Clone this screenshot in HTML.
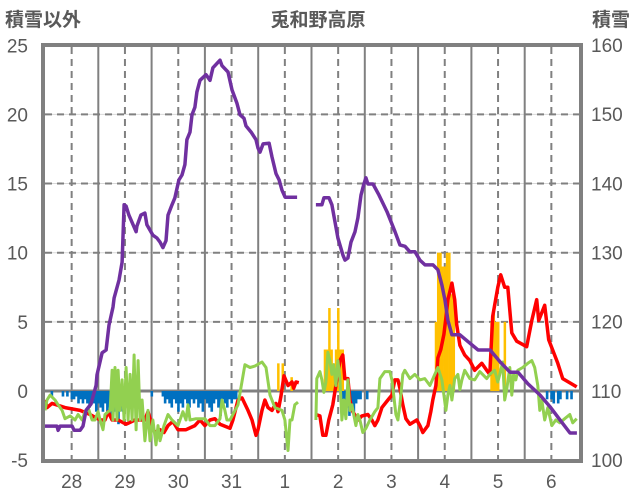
<!DOCTYPE html>
<html><head><meta charset="utf-8"><style>
body{margin:0;background:#fff;}
svg{display:block;font-family:"Liberation Sans","Noto Sans CJK JP",sans-serif;}
</style></head><body>
<svg id="chart" width="636" height="501" viewBox="0 0 636 501" xmlns="http://www.w3.org/2000/svg">
<text x="5" y="26" font-size="19" font-weight="bold" fill="#595959">積雪以外</text>
<text x="318" y="26" font-size="19" font-weight="bold" fill="#595959" text-anchor="middle">兎和野高原</text>
<text x="630" y="26" font-size="19" font-weight="bold" fill="#595959" text-anchor="end">積雪</text>
<g id="grid"></g>
<g id="bars"></g>
<g id="lines"></g>
<rect x="43" y="45" width="538" height="416" fill="none" stroke="#808080" stroke-width="4"/>
<g id="ticks"></g>
</svg>
<script>
const dayLabels=["28","29","30","31","1","2","3","4","5","6"];
const leftTicks=[25,20,15,10,5,0,-5];
const rightTicks=[160,150,140,130,120,110,100];
const snowHours=[0,5.4,5.9,6.8,12.2,13.1,15.8,17.1,18.5,20.7,23,23.4,25.7,27.5,28.8,30.6,31.1,33.3,34.7,35.6,36.5,37.8,41,41.4,43.2,45,45.9,48.6,50.4,51.8,53.1,54.5,55.4,57.2,58.5,60.3,61.7,63,63.9,65.3,66.2,67.5,68.4,69.8,72.5,74.3,75.6,77.9,78.8,79.7,82.4,84.2,86.4,87.8,89.6,90.5,92.8,95,95.9,96.8,98.2,100.9,102.2,104,105.4,106.7,108.1,113.5,null,122,124.7,125.6,127.9,129.2,131.9,134.2,135.1,136.4,137.8,139.6,140.9,142.3,143.6,144.5,145.4,147.7,150.4,154,157.6,159.8,162.1,164.3,166.6,168.8,171.1,174.7,176.9,178.7,180.1,181.4,183.2,186.8,190.5,195,200.4,204.9,209.4,213,217.5,222.9,227.4,231.9,236.4,239.5];
const snowVals=[104.9,104.9,104.3,104.9,104.9,104.3,104.3,104.9,107.2,108.1,110.8,112.3,115.5,115.9,119.5,122.1,123.4,126,128.6,136.9,136.7,135.4,133,133.8,135.4,135.7,134,132.5,132.1,131.5,130.7,131.7,135.4,136.9,137.9,140.5,141.2,142.7,146.3,147.4,149.9,151,153.2,154.9,155.7,154.9,156.7,157.5,157.8,157,156.1,153.5,151.6,149.9,149.4,148.3,147.4,146.3,145.1,144.5,145.7,145.8,143.8,141.4,140.5,139,138,138,null,136.9,136.9,137.9,137.9,136.9,132.1,129.6,128.9,129.2,131.5,133,135,138.3,139.9,140.8,139.9,139.9,138.3,135.9,133,131.1,130.9,130.1,130.1,128.9,128.2,128.2,127.5,125.3,123.1,120.2,118.1,118.1,117.1,115.9,115.9,114.2,112.7,112.7,111,109.4,107.7,105.8,103.9,103.9];
const tempHours=[0,0.9,3.2,9,15.8,20.3,24.8,27,28.4,30.2,32.9,36.5,40.5,45,46.4,48.2,49.5,51.8,53.6,55.4,57.6,59.9,63.5,67.5,69.8,72,74.3,76.5,78.8,83.3,84.6,86.9,88.7,91.4,93.2,95,95.9,97.7,99,100.4,102.2,104,104.9,106.2,107.6,109.4,111.2,112,113,114.3,null,122,123.8,125.1,126.5,127.8,129.6,131,132.8,134.1,135,136.4,137.3,138.6,140.9,142.7,145.4,147.2,148.5,149.9,151.7,154.4,156.2,157.5,158.9,159.8,161.1,162.5,164.3,167.4,168.8,170.1,172.4,173.7,174.6,176,176.9,178.2,179.6,180.5,181.4,183.2,184.5,185.4,186.8,189,191.3,193.5,196.7,198.9,200.3,201.6,203.9,205.2,207,208.4,210.2,212.4,216.9,219.2,221.4,222.3,225,226.8,230.9,233.1,239.4];
const tempVals=[-0.65,-1.2,-0.9,-1.2,-1.4,-1.7,-2.1,-2.1,-1.5,-2.1,-2.1,-2.4,-2.1,-2.1,-1.5,-2.5,-3,-2.8,-3,-2.5,-2.2,-2.8,-2.8,-2.5,-2.1,-2.5,-2.1,-2,-2.4,-2.7,-2.1,-0.65,-0.5,-1.4,-2.1,-3.2,-2.8,-1.4,-0.65,-1.2,-1.4,-0.9,-1.5,-0.4,1.1,0.4,0.65,0.2,0.65,0.6,null,-1.7,-1.8,-3.2,-3.2,-2.1,-1,0.4,2.2,2.6,0.9,0.9,-0.65,-1.5,-2.1,-1.8,-1.7,-2.1,-2.5,-2.1,-1.2,-0.65,-0.3,0.8,0.8,0.2,-1,-2,-2.4,-2.1,-2.5,-3,-2.5,-1.5,-0.65,0.4,2.4,3,4.1,5.3,6.6,7.8,6.6,4.8,3.3,2.6,2.2,1.5,2,1.5,1.2,5.4,7.5,8.4,7.5,7.5,4.2,3.6,3.2,5.1,6.6,5.1,6.2,3.7,2,0.9,0.3];
const windHours=[0,0.9,2.3,4.5,5.9,7.7,9,11.3,13.5,14.9,16.7,18,19.4,21.2,22.5,23.9,24.8,26.1,27,28.4,29.3,30.2,30.6,31.5,32.4,32.9,33.8,34.7,35.6,36.5,37.4,38.3,39.2,40.1,41,41.9,42.8,43.7,45,46.4,47.3,48.6,50,50.9,51.8,53.6,55.4,57.2,59.9,62.1,63.5,64.4,65.3,68,72,74.3,76.5,78.8,79.7,81,81.9,83.3,86.9,90,92.3,94.5,97.7,99.5,101.3,103.5,106.7,108,109.4,110.3,111.2,112.5,113.9,null,122,122.4,123.8,124.7,125.6,126.5,127.4,128.3,129.2,130,131,131.9,132.8,133.7,134.6,135.5,136.4,137.3,138.2,139,140,140.9,141.8,143.1,144.5,146.3,148.5,149.9,150.8,153,155.3,156.2,157,158,158.9,159.8,161.1,162,164.3,166.5,168.8,171,173.3,175.5,176.9,178.7,179.6,180.5,181.4,182.3,183.2,184.5,185.9,186.8,187.7,189,191.3,193.5,195.8,198.9,200.3,202.5,203.9,204.8,206.1,207,207.9,209.3,210.2,211,212,212.9,215.1,217.4,219.2,220.5,221.9,222.8,223.7,225,226.4,228.2,230,231.8,234,236.3,237.6,239.4];
const windVals=[-1.4,-0.65,-0.3,-0.65,-1,-1.4,-2,-1.8,-2.1,-1.7,-2.1,-1.5,-1.2,-2.1,-2.1,-1.5,-2.1,-2.8,-1.7,-1.5,-1.4,1.5,-2.1,1.7,-2.1,1.5,-1.4,0.8,-2.1,1.7,-2.1,1.2,-2.1,2.6,-2.8,2.2,-2.1,-0.65,-3.6,-1.4,-3.6,-2.1,-3.9,-2.5,-3.6,-2.5,-1.7,-2.1,-2.5,-1.5,-2.1,-1,-2.1,-2,-2,-2.5,-2.5,-2,-0.65,-1.4,-2.1,-2.1,-1,1.9,1.7,1.8,2.1,1.7,-0.3,-1.2,-1.4,-2.1,-4.3,-2.1,-2.1,-1,-0.8,null,-2.1,0.9,1.4,0.8,-0.1,0.65,2.8,2.2,1.2,1.9,0.4,2.2,0.9,-2.1,-0.65,-2,0.8,-1.4,-1,-1.7,-2.5,-1.7,-2.1,-3,-2.7,-2.1,-1.5,-1.2,0.9,1.4,1.4,0.8,-0.3,-1.7,-2.1,-1,1.2,1.5,0.9,1.2,0.8,0.9,0.4,1.2,1.7,0.8,-0.3,-1.4,-0.3,0.4,-0.65,0.9,1.2,0.1,0.8,1.5,0.9,0.8,1.4,0.9,1.2,1.5,0.65,1.2,2.1,-0.65,0.1,1.7,-0.3,1.2,0.8,1.5,1.7,2,2.2,1.7,0.4,-1.4,-0.65,-2.1,-1.2,-2.5,-2.1,-2.3,-2,-1.7,-2.3,-2];
const precHours=[105,107,111,126,127,128,129,130,131,132,133,134,176,177,178,179,180,181,182,183,184,201,202,203,204,207];
const precVals=[2,2,1,3,3,6,3,2,3,6,3,3,5,10,10,9,9,10,10,7,7,5,6,5,5,5];
const negHours=[3,8,10,12,13,14,15,16,17,18,19,20,21,22,23,24,25,26,27,28,29,30,31,32,33,34,35,36,37,38,39,40,41,42,48,53,54,55,56,57,58,59,60,61,62,63,64,65,66,67,68,69,70,71,72,73,74,75,76,77,78,79,80,81,82,83,84,85,86,134,135,136,137,138,139,140,141,142,145,226,228,229,231,232,235,237,239];
const negVals=[-0.4,-0.4,-0.4,-0.6,-0.6,-0.4,-0.9,-0.6,-0.9,-0.6,-0.9,-1.2,-0.6,-0.9,-1.5,-0.9,-1.2,-1.5,-0.9,-1.8,-1.2,-2,-1.5,-1.2,-2.4,-1.2,-1.5,-0.9,-1.2,-0.6,-0.9,-0.6,-0.4,-0.6,-0.4,-0.4,-0.9,-0.6,-0.9,-1.2,-0.6,-0.9,-1.5,-0.9,-1.2,-0.6,-0.9,-1.2,-0.6,-0.9,-0.6,-1.2,-0.9,-1.5,-0.6,-0.9,-1.2,-1.5,-0.9,-0.6,-1.2,-1.8,-0.6,-0.9,-1.2,-0.6,-0.9,-0.6,-0.6,-0.6,-0.9,-1.2,-1.8,-1.2,-1.5,-0.9,-0.6,-0.6,-0.6,-0.6,-0.6,-0.9,-0.9,-0.6,-0.6,-0.6];

const NS="http://www.w3.org/2000/svg";
const X=h=>45+h*(533/240);
const YL=v=>391-v*13.83;
const YR=v=>460-(v-100)*6.917;
function mk(tag,attrs,parent){const e=document.createElementNS(NS,tag);for(const k in attrs)e.setAttribute(k,attrs[k]);parent.appendChild(e);return e;}
const grid=document.getElementById('grid'),bars=document.getElementById('bars'),lines=document.getElementById('lines'),ticks=document.getElementById('ticks');

leftTicks.forEach(v=>{
  if(v!==0&&v!==25&&v!==-5){
    const l=mk('line',{x1:45,x2:580,y1:YL(v),y2:YL(v),stroke:'#d9d9d9','stroke-width':1},grid);
    
    
    const d=mk('line',{x1:45,x2:580,y1:YL(v),y2:YL(v),stroke:'#808080','stroke-width':2,'stroke-dasharray':'7,5'},grid);
    
    
  }
  const t=mk('text',{x:28,y:YL(v)+7,'font-size':19,fill:'#595959','text-anchor':'end'},ticks);
  t.textContent=v;
  
  
});
rightTicks.forEach(v=>{
  const t=mk('text',{x:591,y:YR(v)+7,'font-size':19,fill:'#595959'},ticks);
  t.textContent=v;
  
  
});
dayLabels.forEach((d,i)=>{
  if(i>0){const l=mk('line',{x1:X(i*24),x2:X(i*24),y1:45,y2:460,stroke:'#808080','stroke-width':2},grid);
    
    }
  const m=mk('line',{x1:X(i*24+12),x2:X(i*24+12),y1:47,y2:460,stroke:'#808080','stroke-width':2,'stroke-dasharray':'7,5'},grid);
  
  
  const t=mk('text',{x:X(i*24+12),y:488,'font-size':19,fill:'#595959','text-anchor':'middle'},ticks);
  t.textContent=d;
  
  
});
const z=mk('line',{x1:45,x2:580,y1:YL(0),y2:YL(0),stroke:'#808080','stroke-width':3},grid);



const bw=533/240;
negHours.forEach((h,i)=>{
  const r=mk('rect',{x:X(h)-bw/2,y:YL(0),width:bw+0.4,height:YL(negVals[i])-YL(0),fill:'#0070c0'},bars);
  
  
});
precHours.forEach((h,i)=>{
  const r=mk('rect',{x:X(h)-bw/2,y:YL(precVals[i]),width:bw+0.3,height:YL(0)-YL(precVals[i]),fill:'#ffc000'},bars);
  
  
});
function path(hs,vs,yf){let d='',pen=false;hs.forEach((h,i)=>{if(h===null||vs[i]===null){pen=false;return;}d+=(pen?'L':'M')+X(h).toFixed(1)+','+yf(vs[i]).toFixed(1);pen=true;});return d;}
const pr=mk('path',{d:path(tempHours,tempVals,YL),fill:'none',stroke:'#ff0000','stroke-width':3.5,'stroke-linejoin':'round'},lines);


const pg=mk('path',{d:path(windHours,windVals,YL),fill:'none',stroke:'#92d050','stroke-width':3,'stroke-linejoin':'round'},lines);


const pp=mk('path',{d:path(snowHours,snowVals,YR),fill:'none',stroke:'#7030a0','stroke-width':3.5,'stroke-linejoin':'round'},lines);


</script>
</body></html>
